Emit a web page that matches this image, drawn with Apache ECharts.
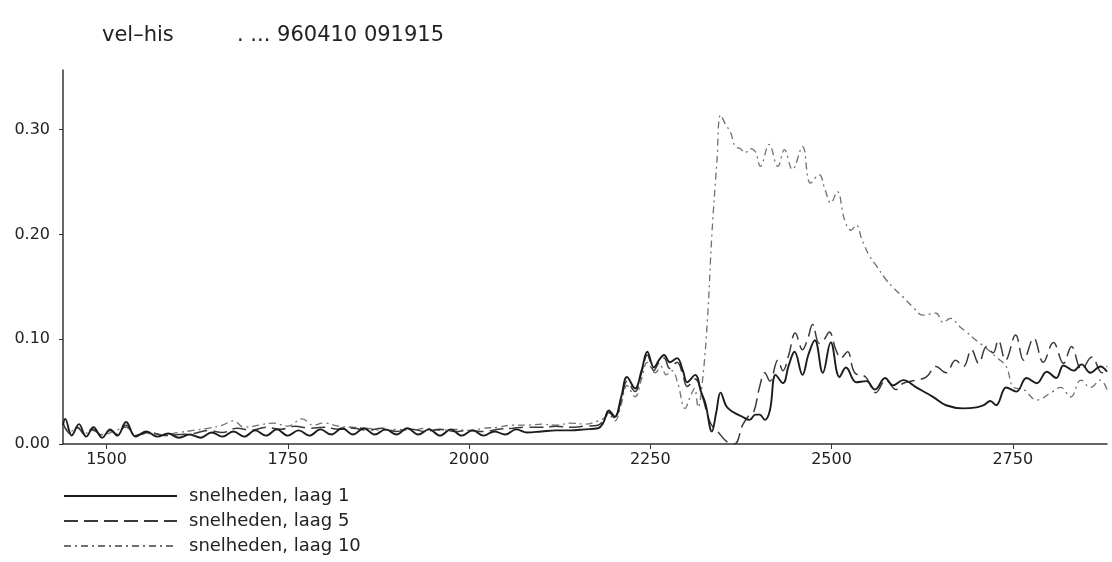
<!DOCTYPE html>
<html>
<head>
<meta charset="utf-8">
<script src="https://cdn.jsdelivr.net/npm/echarts@6/dist/echarts.min.js"></script>
<style>
  html, body { margin: 0; padding: 0; background: #ffffff; }
  #chart { width: 1112px; height: 562px; }
</style>
</head>
<body>
<div id="chart"></div>
<script>
// Velocity history, three layers: [time, velocity]
const laag1 = [
  [1440,0.018],[1443,0.024],[1452,0.008],[1462,0.019],[1472,0.007],[1482,0.016],[1494,0.006],
  [1505,0.014],[1515,0.008],[1527,0.021],[1540,0.007],[1555,0.012],[1570,0.007],[1585,0.010],
  [1600,0.006],[1615,0.009],[1630,0.006],[1645,0.011],[1660,0.007],[1675,0.012],[1690,0.007],
  [1705,0.013],[1720,0.008],[1735,0.014],[1750,0.008],[1765,0.013],[1780,0.008],[1795,0.014],
  [1810,0.009],[1825,0.015],[1840,0.009],[1855,0.015],[1870,0.009],[1885,0.014],[1900,0.009],
  [1915,0.015],[1930,0.009],[1945,0.014],[1960,0.008],[1975,0.014],[1990,0.008],[2005,0.013],
  [2020,0.008],[2035,0.012],[2050,0.009],[2065,0.014],[2080,0.011],[2100,0.012],[2120,0.013],
  [2140,0.013],[2160,0.014],[2178,0.015],
  [2185,0.020],[2193,0.032],[2201,0.026],[2210,0.045],[2218,0.064],[2229,0.053],[2238,0.070],
  [2246,0.088],[2255,0.073],[2262,0.080],[2269,0.085],[2277,0.078],[2287,0.082],[2295,0.070],
  [2301,0.059],[2312,0.066],[2320,0.050],[2326,0.039],[2335,0.012],[2341,0.030],[2347,0.049],
  [2355,0.036],[2363,0.031],[2377,0.026],[2387,0.023],[2395,0.028],[2401,0.028],[2408,0.023],
  [2415,0.032],[2423,0.066],[2433,0.058],[2441,0.075],[2449,0.088],[2460,0.066],[2468,0.085],
  [2477,0.099],[2488,0.068],[2499,0.097],[2511,0.064],[2520,0.073],[2534,0.059],[2548,0.060],
  [2560,0.052],[2574,0.063],[2585,0.056],[2599,0.061],[2617,0.054],[2640,0.045],[2658,0.037],
  [2682,0.034],[2700,0.035],[2710,0.037],[2719,0.041],[2727,0.037],[2741,0.054],[2755,0.050],
  [2769,0.063],[2783,0.058],[2797,0.069],[2810,0.063],[2820,0.075],[2834,0.070],[2845,0.076],
  [2857,0.068],[2871,0.074],[2880,0.069]
];

const laag5 = [
  [1440,0.020],[1450,0.010],[1460,0.016],[1470,0.009],[1480,0.014],[1495,0.008],[1505,0.013],
  [1515,0.009],[1527,0.018],[1540,0.008],[1560,0.011],[1580,0.008],[1600,0.009],[1620,0.010],
  [1640,0.013],[1660,0.011],[1680,0.015],[1700,0.013],[1720,0.016],[1740,0.014],[1760,0.017],
  [1780,0.015],[1800,0.016],[1820,0.014],[1840,0.015],[1860,0.013],[1880,0.015],[1900,0.012],
  [1920,0.014],[1940,0.012],[1960,0.014],[1980,0.012],[2000,0.013],[2020,0.012],[2040,0.014],
  [2060,0.015],[2080,0.016],[2100,0.016],[2120,0.017],[2140,0.016],[2160,0.017],[2178,0.018],
  [2185,0.022],[2193,0.030],[2201,0.025],[2210,0.042],[2218,0.060],[2229,0.050],[2238,0.068],
  [2246,0.085],[2255,0.070],[2262,0.078],[2269,0.082],[2277,0.072],[2287,0.078],[2295,0.066],
  [2301,0.055],[2312,0.062],[2322,0.045],[2333,0.020],[2343,0.012],[2356,0.002],[2366,0.000],
  [2378,0.019],[2387,0.028],[2393,0.031],[2401,0.055],[2408,0.068],[2415,0.060],[2426,0.080],
  [2433,0.070],[2441,0.085],[2450,0.106],[2460,0.090],[2467,0.100],[2474,0.114],[2483,0.096],
  [2490,0.100],[2497,0.107],[2506,0.090],[2513,0.082],[2522,0.088],[2532,0.068],[2547,0.064],
  [2561,0.049],[2575,0.061],[2589,0.052],[2599,0.058],[2617,0.061],[2631,0.064],[2644,0.074],
  [2658,0.068],[2671,0.080],[2682,0.074],[2693,0.090],[2703,0.077],[2714,0.093],[2723,0.087],
  [2730,0.099],[2740,0.080],[2754,0.104],[2765,0.080],[2779,0.101],[2792,0.078],[2806,0.097],
  [2820,0.077],[2831,0.093],[2845,0.071],[2859,0.083],[2873,0.068],[2880,0.074]
];

const laag10 = [
  [1440,0.018],[1450,0.012],[1460,0.015],[1470,0.010],[1480,0.013],[1495,0.009],[1510,0.012],
  [1527,0.016],[1540,0.009],[1560,0.010],[1580,0.009],[1600,0.011],[1620,0.013],[1640,0.015],
  [1660,0.018],[1675,0.022],[1690,0.016],[1710,0.018],[1730,0.020],[1750,0.017],[1770,0.024],
  [1785,0.018],[1800,0.020],[1820,0.017],[1840,0.016],[1860,0.015],[1880,0.013],[1900,0.014],
  [1920,0.013],[1940,0.015],[1960,0.013],[1980,0.014],[2000,0.013],[2020,0.015],[2040,0.016],
  [2060,0.018],[2080,0.018],[2100,0.019],[2120,0.018],[2140,0.020],[2160,0.019],[2178,0.022],
  [2185,0.024],[2193,0.028],[2201,0.022],[2210,0.038],[2218,0.056],[2229,0.045],[2238,0.062],
  [2246,0.078],[2257,0.068],[2265,0.074],[2272,0.066],[2280,0.070],[2288,0.058],[2298,0.034],
  [2305,0.045],[2311,0.053],[2316,0.035],[2322,0.060],[2329,0.120],[2335,0.200],[2342,0.270],
  [2347,0.314],[2354,0.305],[2361,0.297],[2367,0.284],[2374,0.282],[2381,0.278],[2388,0.282],
  [2395,0.279],[2402,0.265],[2414,0.286],[2426,0.265],[2435,0.281],[2446,0.262],[2460,0.284],
  [2471,0.249],[2483,0.257],[2491,0.243],[2499,0.230],[2508,0.241],[2518,0.214],[2527,0.204],
  [2534,0.209],[2542,0.195],[2552,0.180],[2562,0.170],[2575,0.157],[2587,0.148],[2599,0.140],
  [2612,0.131],[2626,0.123],[2644,0.125],[2654,0.116],[2664,0.120],[2677,0.112],[2686,0.107],
  [2696,0.101],[2705,0.096],[2716,0.090],[2727,0.083],[2741,0.074],[2751,0.054],[2765,0.052],
  [2783,0.042],[2803,0.049],[2816,0.054],[2830,0.045],[2844,0.061],[2857,0.054],[2871,0.061],
  [2880,0.052]
];

const xTicks = [1500, 1750, 2000, 2250, 2500, 2750];
const seriesNames = ['snelheden, laag 1', 'snelheden, laag 5', 'snelheden, laag 10'];

const FONT = 'DejaVu Sans';
const INK = '#222222';

// One legend block per series, stacked under the plot
const legendRowTops = [487, 512, 537];
const legends = seriesNames.map((name, i) => ({
  orient: 'vertical',
  left: 63,
  top: legendRowTops[i],
  padding: 0,
  itemWidth: 113,
  itemHeight: 18,
  itemStyle: { opacity: 0 },
  textStyle: { fontFamily: FONT, fontSize: 18, color: INK, padding: [0, 0, 0, 7] },
  selectedMode: false,
  data: [name]
}));

const chart = echarts.init(document.getElementById('chart'), null, { renderer: 'canvas' });

chart.setOption({
  animation: false,
  backgroundColor: '#ffffff',
  title: [
    { text: 'vel\u2013his', left: 97, top: 20,
      textStyle: { fontFamily: FONT, fontSize: 21, fontWeight: 'normal', color: INK } },
    { text: '. ... 960410 091915', left: 232, top: 20,
      textStyle: { fontFamily: FONT, fontSize: 21, fontWeight: 'normal', color: INK } }
  ],
  grid: { left: 63, right: 5, top: 70, bottom: 118, containLabel: false },
  xAxis: {
    type: 'value',
    min: 1440,
    max: 2880,
    axisLine: { show: true, lineStyle: { color: '#333', width: 1.5 } },
    axisTick: { show: true, customValues: xTicks, length: 5, lineStyle: { color: '#333' } },
    axisLabel: {
      customValues: xTicks, margin: 8, fontFamily: FONT, fontSize: 16, color: INK,
      formatter: v => String(v)
    },
    splitLine: { show: false }
  },
  yAxis: {
    type: 'value',
    min: 0,
    max: 0.357,
    interval: 0.1,
    axisLine: { show: true, lineStyle: { color: '#333', width: 1.5 } },
    axisTick: { show: true, length: 4, lineStyle: { color: '#333' } },
    axisLabel: {
      margin: 13, fontFamily: FONT, fontSize: 16, color: INK, showMaxLabel: false,
      formatter: v => v.toFixed(2)
    },
    splitLine: { show: false }
  },
  legend: legends,
  series: [
    {
      name: seriesNames[0], type: 'line', data: laag1, smooth: 0.4,
      symbol: 'none', z: 3,
      lineStyle: { color: '#1c1c1c', width: 1.9, type: 'solid' },
      itemStyle: { color: '#1c1c1c' }
    },
    {
      name: seriesNames[1], type: 'line', data: laag5, smooth: 0.4,
      symbol: 'none', z: 2,
      lineStyle: { color: '#3a3a3a', width: 1.5, type: [14, 6] },
      itemStyle: { color: '#3a3a3a' }
    },
    {
      name: seriesNames[2], type: 'line', data: laag10, smooth: 0.4,
      symbol: 'none', z: 1,
      lineStyle: { color: '#707070', width: 1.3, type: [7, 4, 2, 4] },
      itemStyle: { color: '#707070' }
    }
  ]
});
</script>
</body>
</html>
